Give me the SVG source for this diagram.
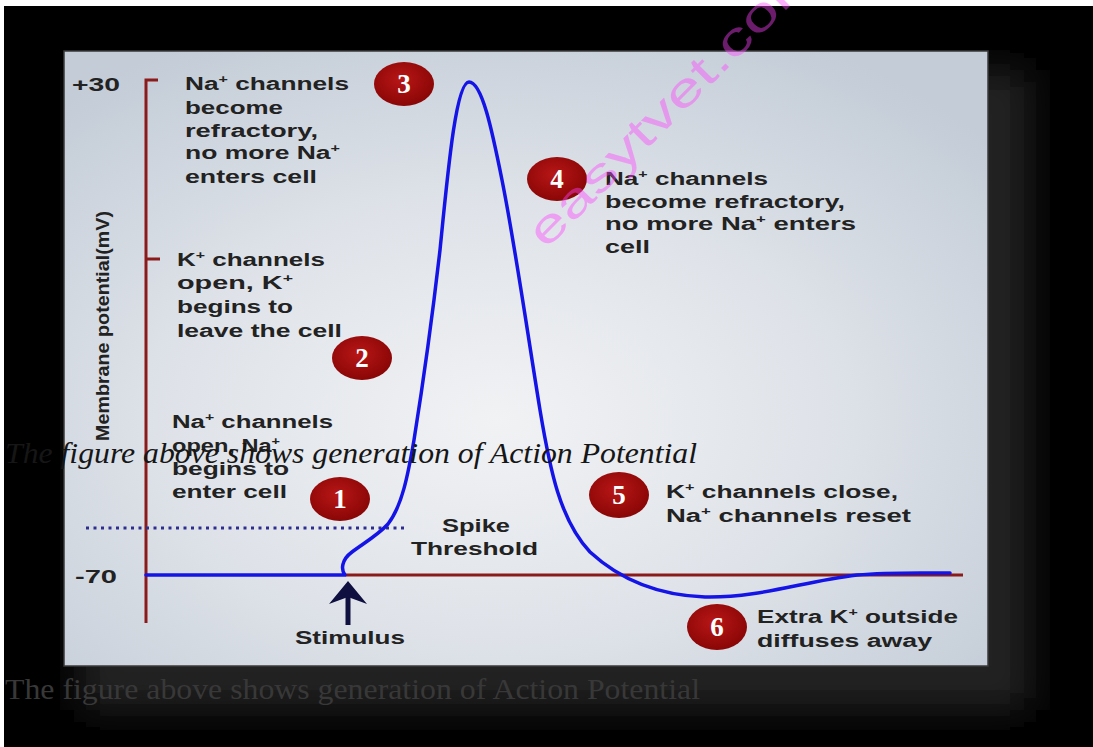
<svg xmlns="http://www.w3.org/2000/svg" width="1093" height="747" viewBox="0 0 1093 747">
<defs>
  <radialGradient id="panelGrad" cx="0.47" cy="0.6" r="0.7">
    <stop offset="0" stop-color="#f1f2f4"/>
    <stop offset="0.5" stop-color="#dfe3e9"/>
    <stop offset="1" stop-color="#c3ccd7"/>
  </radialGradient>
  <radialGradient id="dotGrad" cx="0.45" cy="0.4" r="0.6">
    <stop offset="0" stop-color="#b81616"/>
    <stop offset="1" stop-color="#8a0606"/>
  </radialGradient>
  <filter id="glow" x="-20%" y="-20%" width="140%" height="140%">
    <feGaussianBlur stdDeviation="18"/>
  </filter>
  <style>
    .lbl { font-family: "Liberation Sans", Arial, sans-serif; font-weight: bold; font-size: 18px; fill: #222222; }
    .sup { font-size: 11px; }
    .num { font-family: "Liberation Serif", "Times New Roman", serif; font-weight: bold; font-size: 27px; fill: #ffffff; text-anchor: middle; }
    .dot { fill: url(#dotGrad); }
    .axis { stroke: #8b1a1a; stroke-width: 3; fill: none; }
    .cap { font-family: "Liberation Serif", "Times New Roman", serif; font-size: 30px; }
  </style>
</defs>

<g id="background">
  <rect x="0" y="0" width="1093" height="747" fill="#ffffff"/>
  <rect x="4" y="6" width="1089" height="741" fill="#000000"/>
  <rect x="80" y="70" width="950" height="640" fill="#222222" filter="url(#glow)"/>
</g>

<g id="panel">
  <rect x="64" y="51" width="924" height="615" fill="url(#panelGrad)" stroke="#3a3a3a" stroke-width="1.5"/>
</g>

<g id="axes">
  <path class="axis" d="M158,80 H146 V623"/>
  <path class="axis" d="M146,259 H160"/>
  <path class="axis" d="M345,575 H963"/>
  <text class="lbl" x="72" y="91" textLength="48" lengthAdjust="spacingAndGlyphs">+30</text>
  <text class="lbl" x="75" y="583" textLength="42" lengthAdjust="spacingAndGlyphs">-70</text>
  <text class="lbl" font-size="19" transform="translate(109,441) rotate(-90)" x="0" y="0" textLength="230" lengthAdjust="spacingAndGlyphs">Membrane potential(mV)</text>
</g>

<g id="threshold">
  <path d="M86,528 H408" stroke="#2e2e90" stroke-width="3" stroke-dasharray="3 4.5" fill="none"/>
  <text class="lbl" x="442" y="532" textLength="68" lengthAdjust="spacingAndGlyphs">Spike</text>
  <text class="lbl" x="411" y="555" textLength="127" lengthAdjust="spacingAndGlyphs">Threshold</text>
</g>

<g id="connectors">
  <path d="M146,575 L345,575 C341,570 341,560 352,552 C364,543 378,535 388,524 C402,506 408,475 414,440 C422,390 432,320 440,250 C448,170 456,82 469,82 C482,82 492,130 502,180 C515,245 527,330 540,410 C550,470 560,520 590,552 C615,575 650,595 705,597 C760,598 800,582 857,575 C890,572 920,573 950,573" fill="none" stroke="#1414e6" stroke-width="3.5" stroke-linecap="round" stroke-linejoin="round"/>
</g>

<g id="stimulus">
  <rect x="345.5" y="595" width="5" height="30" fill="#0f1040"/>
  <path d="M348,581 L367,604 L348,597 L329,604 Z" fill="#0f1040"/>
  <text class="lbl" x="295" y="644" textLength="110" lengthAdjust="spacingAndGlyphs">Stimulus</text>
</g>

<g id="step1">
  <ellipse class="dot" cx="340" cy="499" rx="30" ry="22"/>
  <text class="num" x="340" y="508">1</text>
  <text class="lbl" x="172" y="428" textLength="161" lengthAdjust="spacingAndGlyphs">Na<tspan class="sup" dy="-7">+</tspan><tspan dy="7"> channels</tspan></text>
  <text class="lbl" x="172" y="452" textLength="108" lengthAdjust="spacingAndGlyphs">open, Na<tspan class="sup" dy="-7">+</tspan></text>
  <text class="lbl" x="172" y="475" textLength="117" lengthAdjust="spacingAndGlyphs">begins to</text>
  <text class="lbl" x="172" y="498" textLength="115" lengthAdjust="spacingAndGlyphs">enter cell</text>
</g>

<g id="step2">
  <ellipse class="dot" cx="362" cy="358" rx="30" ry="22"/>
  <text class="num" x="362" y="367">2</text>
  <text class="lbl" x="177" y="266" textLength="148" lengthAdjust="spacingAndGlyphs">K<tspan class="sup" dy="-7">+</tspan><tspan dy="7"> channels</tspan></text>
  <text class="lbl" x="177" y="289" textLength="116" lengthAdjust="spacingAndGlyphs">open, K<tspan class="sup" dy="-7">+</tspan></text>
  <text class="lbl" x="177" y="313" textLength="116" lengthAdjust="spacingAndGlyphs">begins to</text>
  <text class="lbl" x="177" y="337" textLength="165" lengthAdjust="spacingAndGlyphs">leave the cell</text>
</g>

<g id="step3">
  <ellipse class="dot" cx="404" cy="84" rx="30" ry="22"/>
  <text class="num" x="404" y="93">3</text>
  <text class="lbl" x="185" y="90" textLength="164" lengthAdjust="spacingAndGlyphs">Na<tspan class="sup" dy="-7">+</tspan><tspan dy="7"> channels</tspan></text>
  <text class="lbl" x="185" y="114" textLength="98" lengthAdjust="spacingAndGlyphs">become</text>
  <text class="lbl" x="185" y="137" textLength="133" lengthAdjust="spacingAndGlyphs">refractory,</text>
  <text class="lbl" x="185" y="159" textLength="155" lengthAdjust="spacingAndGlyphs">no more Na<tspan class="sup" dy="-7">+</tspan></text>
  <text class="lbl" x="185" y="183" textLength="132" lengthAdjust="spacingAndGlyphs">enters cell</text>
</g>

<g id="step4">
  <ellipse class="dot" cx="557" cy="179" rx="30" ry="22"/>
  <text class="num" x="557" y="188">4</text>
  <text class="lbl" x="605" y="185" textLength="163" lengthAdjust="spacingAndGlyphs">Na<tspan class="sup" dy="-7">+</tspan><tspan dy="7"> channels</tspan></text>
  <text class="lbl" x="605" y="208" textLength="240" lengthAdjust="spacingAndGlyphs">become refractory,</text>
  <text class="lbl" x="605" y="230" textLength="251" lengthAdjust="spacingAndGlyphs">no more Na<tspan class="sup" dy="-7">+</tspan><tspan dy="7">  enters</tspan></text>
  <text class="lbl" x="605" y="253" textLength="45" lengthAdjust="spacingAndGlyphs">cell</text>
</g>

<g id="step5">
  <ellipse class="dot" cx="619" cy="495" rx="30" ry="23"/>
  <text class="num" x="619" y="504">5</text>
  <text class="lbl" x="666" y="498" textLength="232" lengthAdjust="spacingAndGlyphs">K<tspan class="sup" dy="-7">+</tspan><tspan dy="7"> channels close,</tspan></text>
  <text class="lbl" x="666" y="522" textLength="245" lengthAdjust="spacingAndGlyphs">Na<tspan class="sup" dy="-7">+</tspan><tspan dy="7">  channels reset</tspan></text>
</g>

<g id="step6">
  <ellipse class="dot" cx="717" cy="627" rx="30" ry="23"/>
  <text class="num" x="717" y="636">6</text>
  <text class="lbl" x="757" y="623" textLength="201" lengthAdjust="spacingAndGlyphs">Extra K<tspan class="sup" dy="-7">+</tspan><tspan dy="7"> outside</tspan></text>
  <text class="lbl" x="757" y="647" textLength="175" lengthAdjust="spacingAndGlyphs">diffuses away</text>
</g>

<g id="captions">
  <text class="cap" x="5" y="463" font-style="italic" fill="#161616" textLength="692" lengthAdjust="spacingAndGlyphs">The figure above shows generation of Action Potential</text>
  <text class="cap" x="5" y="699" fill="#383838" textLength="695" lengthAdjust="spacingAndGlyphs">The figure above shows generation of Action Potential</text>
</g>

<g id="watermark">
  <text transform="translate(546,250) rotate(-45)" x="0" y="0" font-family="'Liberation Sans', Arial, sans-serif" font-size="46" fill="#ff44ff" opacity="0.42" textLength="390" lengthAdjust="spacingAndGlyphs">easytvet.com</text>
</g>
</svg>
